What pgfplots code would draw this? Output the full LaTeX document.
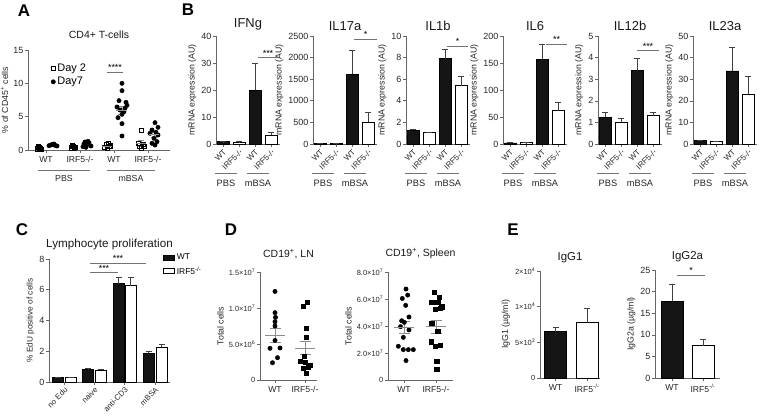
\documentclass[border=0pt]{standalone}
\usepackage{pgfplots}
\pgfplotsset{compat=1.18}
\usepackage{fontspec}
\setmainfont{Liberation Sans}
\newcommand{\fsz}[1]{\fontsize{#1}{#1}\selectfont}
\newcommand{\sig}[4]{\draw[black!55, line width=0.7pt] (axis cs:#1,#3) -- (axis cs:#2,#3) node[midway, above, inner sep=1pt, font=\fsz{9}, text=black] {#4};}
\pgfplotsset{
 prism/.style={
  scale only axis, anchor=south west, clip=false,
  axis lines=left, axis line style={-, draw=black!60, line width=0.75pt},
  tick style={draw=black!60, line width=0.6pt},
  tick align=outside, major tick length=3bp,
  ymin=0, scaled y ticks=false,
  /pgf/number format/assume math mode=true,
  /pgf/number format/1000 sep={},
  tick label style={font=\fsz{9}, text=black!85},
  yticklabel style={inner sep=1.5pt},
  label style={font=\fsz{8.8}, text=black!85},
  title style={font=\fsz{11}, text=black!90},
 },
 Bax/.style={prism, width=64bp, height=108bp, xmin=0, xmax=64, xtick={7,23,39,55},
  xticklabels={WT,IRF5-/-,WT,IRF5-/-},
  xticklabel style={rotate=45, anchor=north east, font=\fsz{8}, inner sep=1pt},
  ylabel={mRNA expression (AU)}, title style={font=\fsz{13}, yshift=-4bp}},
 WTbar/.style={ybar, bar width=12bp, bar shift=0pt, fill=black!92, draw=black, line width=0.8pt},
 KObar/.style={ybar, bar width=12bp, bar shift=0pt, fill=white, draw=black, line width=0.9pt},
 barleg/.style={legend image code/.code={\draw[##1] (0bp,-2.5bp) rectangle (11bp,2.5bp);}},
 ebp/.style={error bars/.cd, y dir=plus, y explicit, error bar style={line width=0.8pt, black!75},
  error mark options={rotate=90, mark size=3bp, line width=0.8pt, black!75}},
 msem/.style={only marks, mark=-, mark size=#1, black!45, line width=0.8pt, forget plot,
  error bars/.cd, y dir=both, y explicit, error bar style={black!45, line width=0.8pt},
  error mark options={rotate=90, mark size=0.55*#1, black!45, line width=0.8pt}},
}
\begin{document}
\begin{tikzpicture}
\useasboundingbox (0,0) rectangle (762bp,416bp);

% ---------------- Panel A ----------------
\begin{axis}[prism, at={(28bp,266bp)}, width=142bp, height=100bp, xmin=0, xmax=142, ymax=15,
  ytick={0,5,10,15}, xtick={18,52,86,120}, xticklabels={WT,IRF5-/-,WT,IRF5-/-},
  xticklabel style={font=\fsz{8.7}}, ylabel={\% of CD45\textsuperscript{+} cells},
  title={CD4+ T-cells}, title style={font=\fsz{10.5}, yshift=2bp},
  legend style={at={(0.14,0.9)}, anchor=north west, draw=none, fill=none, font=\fsz{11}, row sep=0bp},
  legend cell align=left]
\addplot[only marks, mark=square, mark size=2.1bp, black, mark options={line width=0.8pt}] coordinates {
 (9,0.15) (11,0.3) (13,0.1) (10,0.45) (12,0.25)
 (43,0.3) (45,0.5) (47,0.4) (44,0.6) (46,0.2)
 (76,0.4) (78,0.8) (80,0.9) (82,0.6) (79,0.3) (81,0.5)
 (113,2.9) (110,1.0) (115,0.85) (111,0.6) (116,0.5) (113,0.3)};
\addplot[only marks, mark=*, mark size=2.2bp, black] coordinates {
 (21,0.65) (23,0.75) (25,0.85) (27,0.7) (29,0.6) (24,0.8) (26,0.9)
 (55,0.5) (57,1.2) (59,0.8) (61,1.1) (63,0.6) (58,0.4) (60,1.3) (56,0.9)
 (94,10.0) (94,8.9) (91,7.4) (98,7.15) (89,6.45) (97,6.25) (92,6.0) (96,5.75) (94,5.35) (90,4.85) (94,3.95) (94,2.1) (99,6.7)
 (127,4.1) (130,3.4) (124,3.0) (128,2.65) (122,2.5) (130,2.25) (126,1.75) (129,1.25) (124,1.0) (127,0.75)};
\legend{Day 2, Day7}
\addplot[msem=5bp] coordinates {(93,6.0) +- (0,0.6) (126,2.3) +- (0,0.35) (113,1.0) +- (0,0.4) (79,0.6) +- (0,0.1)};
\sig{79}{95}{11.7}{****}
\end{axis}

% ---------------- Panel B ----------------
\begin{axis}[Bax, at={(216bp,272bp)}, ymax=40, ytick={0,10,20,30,40}, title={IFNg}]
\addplot[WTbar, ebp] coordinates {(7,0.8) +- (0,0.1) (39,19.9) +- (0,9.8)};
\addplot[KObar, ebp] coordinates {(23,0.7) +- (0,0.1) (55,3.3) +- (0,0.85)};
\sig{42}{62}{32}{***}
\end{axis}
\begin{axis}[Bax, at={(313bp,272bp)}, ymax=2500, ytick={0,500,1000,1500,2000,2500}, title={IL17a}]
\addplot[WTbar, ebp] coordinates {(7,20) +- (0,5) (39,1620) +- (0,540)};
\addplot[KObar, ebp] coordinates {(23,5) +- (0,2) (55,510) +- (0,210)};
\sig{41}{64}{2430}{*}
\end{axis}
\begin{axis}[Bax, at={(406bp,272bp)}, ymax=10, ytick={0,2,4,6,8,10}, title={IL1b}]
\addplot[WTbar, ebp] coordinates {(7,1.25) +- (0,0.1) (39,7.9) +- (0,0.85)};
\addplot[KObar, ebp] coordinates {(23,1.05) +- (0,0.05) (55,5.4) +- (0,0.9)};
\sig{41}{62}{9.07}{*}
\end{axis}
\begin{axis}[Bax, at={(503bp,272bp)}, ymax=200, ytick={0,50,100,150,200}, title={IL6}]
\addplot[WTbar, ebp] coordinates {(7,2) +- (0,0.3) (39,157) +- (0,28)};
\addplot[KObar, ebp] coordinates {(23,2) +- (0,0.3) (55,62) +- (0,15)};
\sig{43}{64}{185}{**}
\end{axis}
\begin{axis}[Bax, at={(598bp,272bp)}, ymax=5, ytick={0,1,2,3,4,5}, title={IL12b}]
\addplot[WTbar, ebp] coordinates {(7,1.24) +- (0,0.24) (39,3.4) +- (0,0.55)};
\addplot[KObar, ebp] coordinates {(23,1.01) +- (0,0.19) (55,1.3) +- (0,0.17)};
\sig{39}{61}{4.33}{***}
\end{axis}
\begin{axis}[Bax, at={(693bp,272bp)}, ymax=50, ytick={0,10,20,30,40,50}, title={IL23a}]
\addplot[WTbar, ebp] coordinates {(7,1.5) +- (0,0.2) (39,33.8) +- (0,11)};
\addplot[KObar, ebp] coordinates {(23,1.0) +- (0,0.2) (55,23) +- (0,8.2)};
\end{axis}

% ---------------- Panel C ----------------
\begin{axis}[prism, at={(49bp,34bp)}, width=121bp, height=123bp, xmin=0, xmax=121, ymax=8,
  ytick={0,2,4,6,8}, xtick={15.25,45.25,75.5,106}, xticklabels={no Edu,naive,anti-CD3,mBSA},
  xticklabel style={rotate=45, anchor=north east, font=\fsz{7.8}, inner sep=1pt},
  ylabel={\% EdU positive of cells}, label style={font=\fsz{8.3}},
  title={Lymphocyte proliferation}, title style={font=\fsz{11.7}, yshift=0bp},
  legend style={at={(0.94,1.06)}, anchor=north west, draw=none, fill=none, font=\fsz{8.5}, row sep=2bp, inner sep=0pt},
  legend cell align=left]
\addplot[WTbar, bar width=11bp, barleg, ebp]
 coordinates {(9,0.3) +- (0,0.02) (39,0.82) +- (0,0.05) (69.5,6.4) +- (0,0.4) (99.5,1.87) +- (0,0.15)};
\addplot[KObar, bar width=11bp, barleg, ebp]
 coordinates {(21.5,0.3) +- (0,0.02) (51.5,0.78) +- (0,0.04) (81.5,6.25) +- (0,0.55) (112.5,2.27) +- (0,0.2)};
\legend{WT, IRF5\textsuperscript{-/-}}
\sig{41}{97}{7.74}{***}
\sig{41}{69}{7.1}{***}
\end{axis}

% ---------------- Panel D ----------------
\begin{axis}[prism, at={(260bp,36bp)}, width=57bp, height=108bp, xmin=0, xmax=57, ymax=15,
  ytick={0,5,10,15}, yticklabels={0, 5.0×10\textsuperscript{6}, 1.0×10\textsuperscript{7}, 1.5×10\textsuperscript{7}},
  yticklabel style={font=\fsz{7.5}}, xtick={15,45}, xticklabels={WT, IRF5-/-}, xticklabel style={font=\fsz{8.7}},
  ylabel={Total cells}, title={CD19\textsuperscript{+}, LN}, title style={font=\fsz{10.5}, yshift=4bp}]
\addplot[only marks, mark=*, mark size=2.2bp, black] coordinates {
 (15,12.3) (15,9.35) (15.5,8.7) (15,8.1) (15,7.5) (15,5.5) (10,4.4) (20,4.45) (17.5,3.1) (12.5,2.4)};
\addplot[only marks, mark=square*, mark size=2.1bp, black] coordinates {
 (47,10.8) (43,10.3) (46,7.2) (46,5.9) (44,3.3) (40,2.6) (45,2.5) (50,2.0) (48.5,1.8) (43,1.6) (46,0.9)};
\addplot[msem=10bp] coordinates {(15,6.2) +- (0,1.0) (45,4.45) +- (0,0.95)};
\end{axis}
\begin{axis}[prism, at={(388bp,36bp)}, width=65bp, height=108bp, xmin=0, xmax=65, ymax=8,
  ytick={0,2,4,6,8}, yticklabels={0, 2.0×10\textsuperscript{7}, 4.0×10\textsuperscript{7}, 6.0×10\textsuperscript{7}, 8.0×10\textsuperscript{7}},
  yticklabel style={font=\fsz{7.5}}, xtick={16,48}, xticklabels={WT, IRF5-/-}, xticklabel style={font=\fsz{8.7}},
  ylabel={Total cells}, title={CD19\textsuperscript{+}, Spleen}, title style={font=\fsz{10.5}, yshift=4bp}]
\addplot[only marks, mark=*, mark size=2.2bp, black] coordinates {
 (18,6.74) (19.7,6.29) (14.3,6.04) (17.7,5.53) (21,4.67) (13.7,4.39) (16.3,4.27) (21,3.71) (15.3,3.16)
 (10.3,2.5) (15.3,2.25) (20.3,2.25) (25.3,2.25) (18,1.44) (12.5,3.95)};
\addplot[only marks, mark=square*, mark size=2.1bp, black] coordinates {
 (46.3,6.49) (51,6.16) (43.7,5.78) (49.7,5.75) (53.7,5.43) (47,5.23) (52,5.3) (43.7,4.17) (49.7,3.64)
 (43,2.83) (47,2.5) (52,2.6) (48.7,1.39) (48.7,0.81)};
\addplot[msem=10bp] coordinates {(16,3.9) +- (0,0.45) (48,3.95) +- (0,0.48)};
\end{axis}

% ---------------- Panel E ----------------
\begin{axis}[prism, at={(540bp,38bp)}, width=60bp, height=107bp, xmin=0, xmax=60, ymax=15000,
  ytick={0,5000,10000,15000}, yticklabels={0, 5×10\textsuperscript{3}, 1×10\textsuperscript{4}, 2×10\textsuperscript{4}},
  yticklabel style={font=\fsz{7.5}}, xtick={15.5,47}, xticklabels={WT, IRF5\textsuperscript{-/-}}, xticklabel style={font=\fsz{8.7}},
  ylabel={IgG1 (µg/ml)}, title={IgG1}, title style={font=\fsz{11.5}, yshift=-1bp}]
\addplot[WTbar, bar width=22bp, ebp] coordinates {(15.5,6490) +- (0,610)};
\addplot[KObar, bar width=22bp, ebp] coordinates {(47,7750) +- (0,2020)};
\end{axis}
\begin{axis}[prism, at={(655bp,38bp)}, width=65bp, height=108bp, xmin=0, xmax=65, ymax=25,
  ytick={0,5,10,15,20,25}, xtick={17,48}, xticklabels={WT, IRF5\textsuperscript{-/-}}, xticklabel style={font=\fsz{8.7}},
  ylabel={IgG2a (µg/ml)}, title={IgG2a}, title style={font=\fsz{11.5}, yshift=-1bp}]
\addplot[WTbar, bar width=22bp, ebp] coordinates {(17,17.8) +- (0,3.9)};
\addplot[KObar, bar width=22bp, ebp] coordinates {(48,7.5) +- (0,1.4)};
\sig{22}{50}{23.8}{*}
\end{axis}

% ---------------- decorations ----------------
\begin{scope}[x=1bp, y=1bp]
\draw[black!55, line width=0.7pt] (38,246) -- (90,246) (107,246) -- (155,246);
\node[font=\fsz{8.8}, text=black!85] at (64,238) {PBS};
\node[font=\fsz{8.8}, text=black!85] at (131,238) {mBSA};
\foreach \xo in {216,313,406,503,598,693} {
  \draw[black!55, line width=0.7pt] (\xo-1,243) -- (\xo+21,243) (\xo+31,243) -- (\xo+53,243);
  \node[font=\fsz{9.3}, text=black!85] at (\xo+10,233) {PBS};
  \node[font=\fsz{9.3}, text=black!85] at (\xo+42,233) {mBSA};
}
\node[font=\fsz{17}\bfseries] at (24,405) {A};
\node[font=\fsz{17}\bfseries] at (188,406) {B};
\node[font=\fsz{17}\bfseries] at (22,186) {C};
\node[font=\fsz{17}\bfseries] at (231,186) {D};
\node[font=\fsz{17}\bfseries] at (513,186) {E};
\end{scope}
\end{tikzpicture}
\end{document}
